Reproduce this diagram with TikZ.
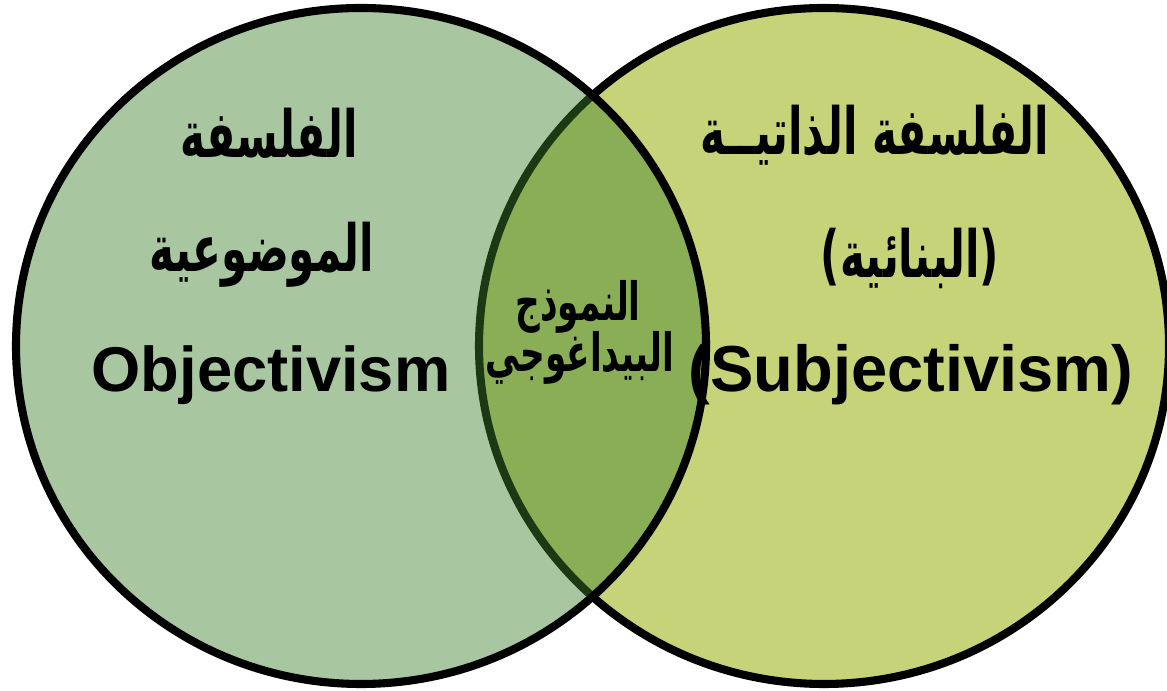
\documentclass[tikz,border=0pt]{standalone}
\usepackage{fontspec}
\setmainfont{Liberation Sans}
\newfontfamily\arabicfont[Script=Arabic, FakeStretch=0.65]{DejaVu Sans}
\TeXXeTstate=1
\definecolor{objgreen}{RGB}{62,129,44}
\definecolor{subjyellow}{RGB}{199,211,120}

\begin{document}
\begin{tikzpicture}[
    latword/.style={inner sep=0pt, anchor=base, font=\fontsize{18}{20}\selectfont\bfseries},
    arword/.style={inner sep=0pt, font=\arabicfont\fontsize{18.5}{22}\selectfont\bfseries},
    smallar/.style={inner sep=0pt, font=\arabicfont\fontsize{15}{17}\selectfont\bfseries}]
    \useasboundingbox (0,0) rectangle (11.67,6.91);
    % subjectivism circle (under)
    \fill[subjyellow] (8.24,3.45) ellipse (3.45 and 3.38);
    \draw[line width=2.3pt] (8.24,3.45) ellipse (3.45 and 3.38);
    % objectivism circle (over, see-through)
    \fill[objgreen, fill opacity=0.45] (3.61,3.45) ellipse (3.45 and 3.38);
    \draw[line width=2.3pt] (3.61,3.45) ellipse (3.45 and 3.38);
    % left texts
    \node[arword] (lphil) at (2.69,5.58) {\beginR الفلسفة\endR};
    \node[arword] (lobj) at (2.62,4.36) {\beginR الموضوعية\endR};
    \node[latword] (lword) at (2.71,2.99) {Objectivism};
    % right texts
    \node[arword] (rphil) at (8.75,5.56) {\beginR الفلسفة الذاتيــة\endR};
    \node[arword] (rbuild) at (9.10,4.33) {)\beginR البنائية\endR(};
    \node[latword, font=\fontsize{18.5}{21}\selectfont\bfseries] (rword) at (9.11,2.99) {(Subjectivism)};
    % middle
    \node[smallar] (mid1) at (5.78,3.84) {\beginR النموذج\endR};
    \node[smallar] (mid2) at (5.80,3.33) {\beginR البيداغوجي\endR};
\end{tikzpicture}
\end{document}
